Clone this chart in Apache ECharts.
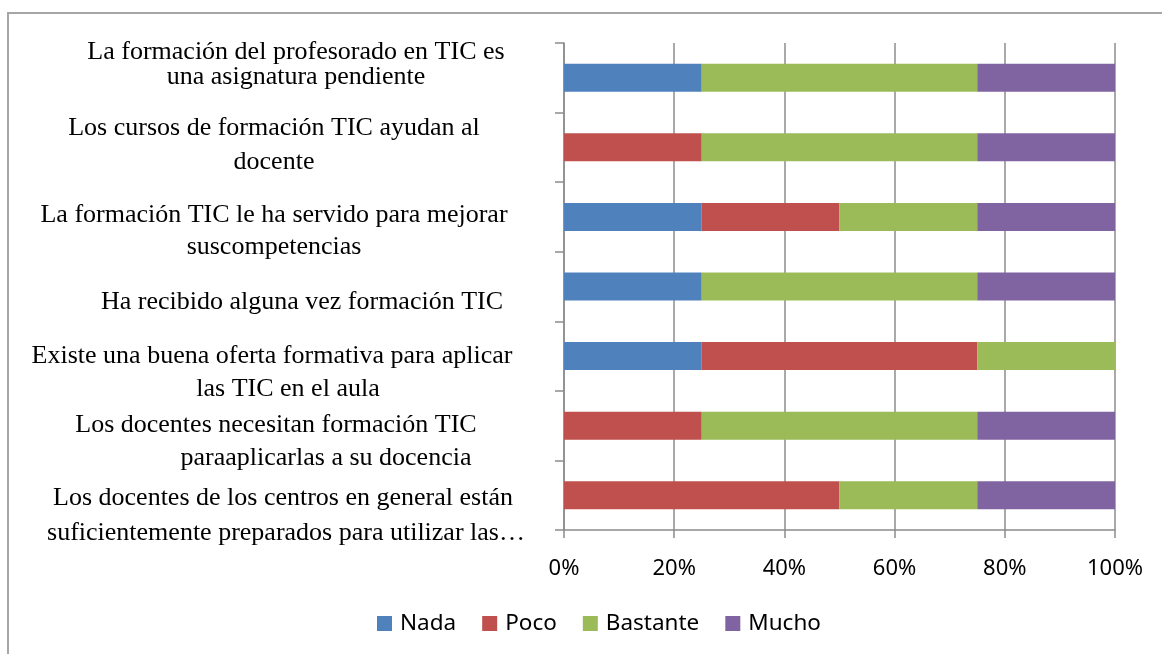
<!DOCTYPE html>
<html>
<head>
<meta charset="utf-8">
<script src="https://cdn.jsdelivr.net/npm/echarts@6/dist/echarts.min.js"></script>
<style>
  html, body { margin: 0; padding: 0; background: #fff; }
  #chart { width: 1162px; height: 654px; }
</style>
</head>
<body>
<div id="chart"></div>
<script>
// categories, listed bottom to top (category axis goes upward)
const categories = [
  "Los docentes de los centros en general están\nsuficientemente preparados para utilizar las…",
  "Los docentes necesitan formación TIC\nparaaplicarlas a su docencia",
  "Existe una buena oferta formativa para aplicar\nlas TIC en el aula",
  "Ha recibido alguna vez formación TIC",
  "La formación TIC le ha servido para mejorar\nsuscompetencias",
  "Los cursos de formación TIC ayudan al\ndocente",
  "La formación del profesorado en TIC es\nuna asignatura pendiente"
];

const nada = [0, 0, 25, 25, 25, 0, 25];
const poco = [50, 25, 50, 0, 25, 25, 0];
const bastante = [25, 50, 25, 50, 25, 50, 50];
const mucho = [25, 25, 0, 25, 25, 25, 25];

const seriesNames = ["Nada", "Poco", "Bastante", "Mucho"];
const colors = ["#4f81bd", "#c0504d", "#9bbb59", "#8064a2"];

// how each wrapped label sits in the picture (Excel places them a bit unevenly):
// dy = shift of the block, lh = line height, dx = horizontal shift of each line
const labelLayout = [
  { dy: 20, lh: 35, dx: [-2, 1] },
  { dy: 16, lh: 33, dx: [-9, 41] },
  { dy: 17, lh: 33, dx: [-13, 3] },
  { dy: 16, lh: 33, dx: [17] },
  { dy: 14, lh: 32, dx: [-11, -11] },
  { dy: -2, lh: 34, dx: [-11, -11] },
  { dy: -13, lh: 25, dx: [11, 11] }
];

const labelFont = { fontFamily: "Liberation Serif", fontSize: 26, color: "#000" };
const rich = {};
labelLayout.forEach(function (l, i) {
  rich["sp" + i] = { fontSize: 1, lineHeight: Math.abs(2 * l.dy) };
  l.dx.forEach(function (dx, j) {
    rich["t" + i + "_" + j] = Object.assign({}, labelFont, {
      lineHeight: l.lh,
      align: "center",
      padding: dx >= 0 ? [0, 0, 0, 2 * dx] : [0, -2 * dx, 0, 0]
    });
  });
});

function labelFormatter(value, index) {
  const l = labelLayout[index];
  const lines = value.split("\n").map(function (s, j) {
    return "{t" + index + "_" + j + "|" + s + "}";
  });
  const sp = "{sp" + index + "|\u00a0}";
  if (l.dy > 0) lines.unshift(sp);
  else if (l.dy < 0) lines.push(sp);
  return lines.join("\n");
}

const chart = echarts.init(document.getElementById("chart"));
const axisGrey = "#8c8c8c";

function makeSeries(name, data) {
  return {
    name: name,
    type: "bar",
    stack: "total",
    barWidth: 28,
    data: data,
    emphasis: { disabled: true }
  };
}

chart.setOption({
  animation: false,
  color: colors,
  graphic: [
    {
      type: "polyline",
      shape: { points: [[8, 660], [8, 13], [1170, 13]] },
      style: { stroke: "#a6a6a6", lineWidth: 2, fill: null }
    }
  ],
  legend: {
    top: 607,
    left: 372,
    itemWidth: 15,
    itemHeight: 15,
    itemGap: 26,
    icon: "rect",
    textStyle: { fontFamily: "Noto Sans", fontSize: 22.5, color: "#000", padding: [0, 0, 0, 3] },
    data: seriesNames
  },
  grid: {
    left: 564,
    right: 47,
    top: 43,
    bottom: 124,
    outerBoundsMode: "none"
  },
  xAxis: {
    type: "value",
    min: 0,
    max: 100,
    interval: 20,
    axisLine: { show: true, lineStyle: { color: axisGrey, width: 1.5 } },
    axisTick: { show: true, length: 8, lineStyle: { color: axisGrey, width: 1.5 } },
    axisLabel: {
      formatter: "{value}%",
      margin: 28,
      fontFamily: "Noto Sans",
      fontSize: 22,
      color: "#000"
    },
    splitLine: { show: true, lineStyle: { color: axisGrey, width: 1.5 } }
  },
  yAxis: {
    type: "category",
    data: categories,
    axisLine: { show: true, lineStyle: { color: axisGrey, width: 1.5 } },
    axisTick: { show: true, length: 9, lineStyle: { color: axisGrey, width: 1.5 } },
    axisLabel: {
      align: "center",
      verticalAlign: "middle",
      margin: 279,
      interval: 0,
      fontFamily: "Liberation Serif",
      fontSize: 26,
      color: "#000",
      formatter: labelFormatter,
      rich: rich
    },
    splitLine: { show: false }
  },
  series: [
    makeSeries("Nada", nada),
    makeSeries("Poco", poco),
    makeSeries("Bastante", bastante),
    makeSeries("Mucho", mucho)
  ]
});
</script>
</body>
</html>
